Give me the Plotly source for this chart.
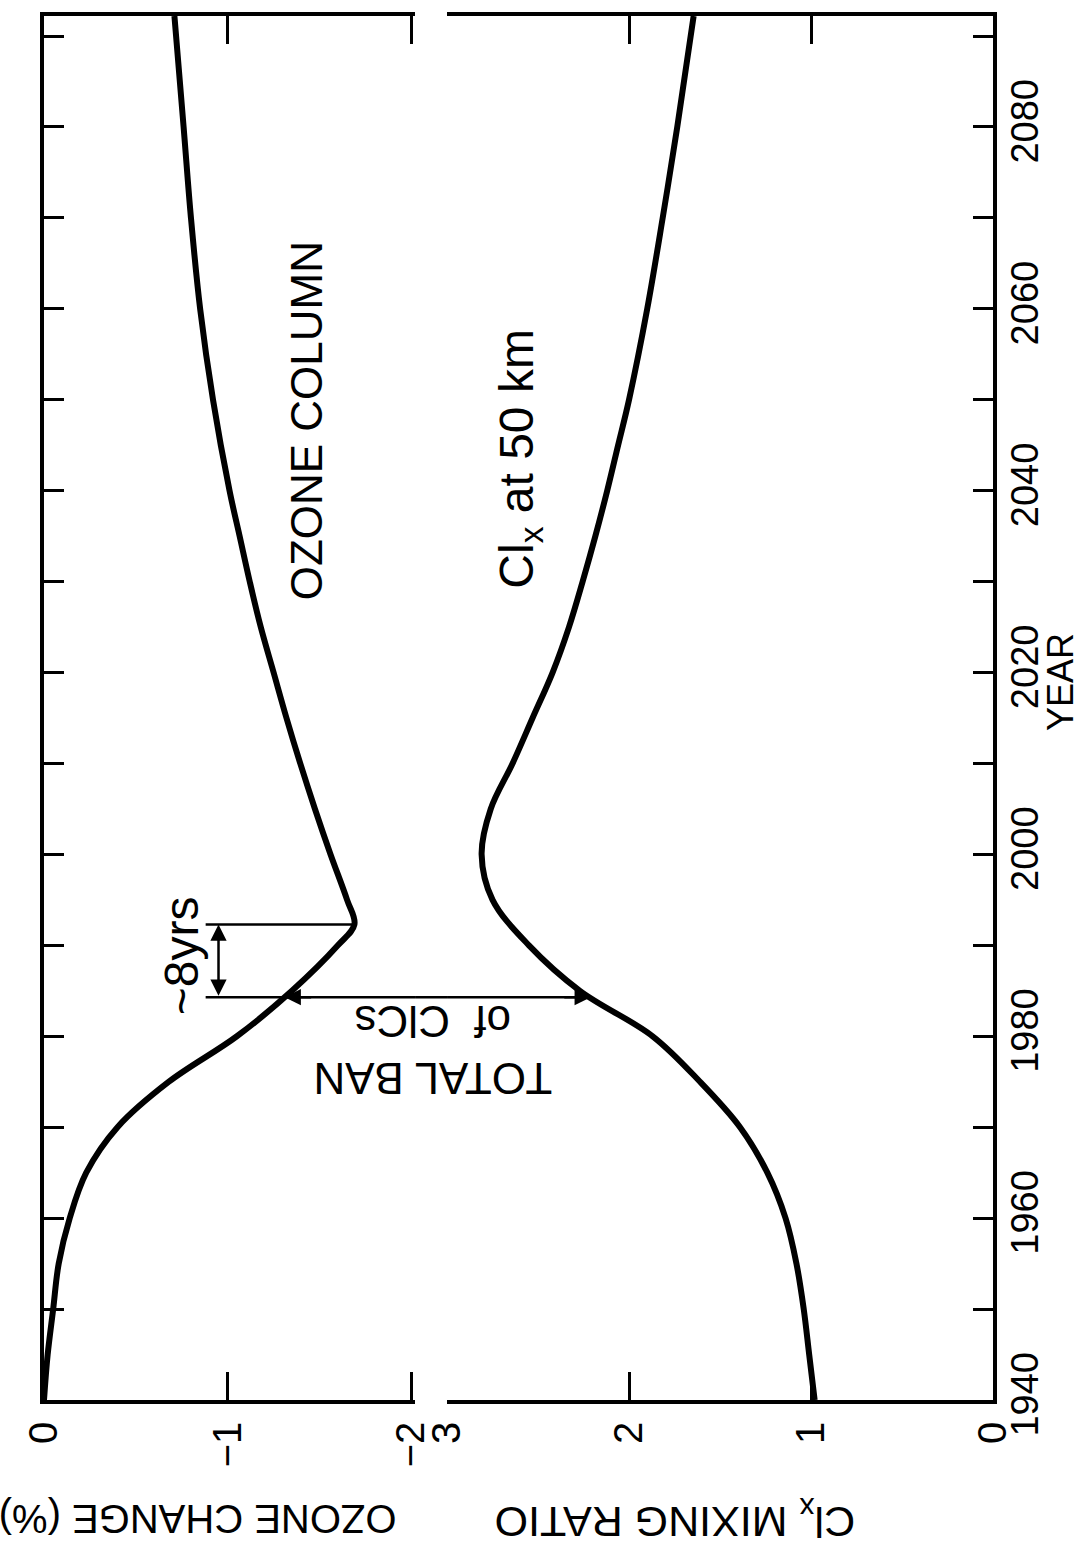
import plotly.graph_objects as go

# ---------------- data ----------------
YEARS_OZONE = [1940, 1945, 1950, 1955, 1960, 1965, 1970, 1975, 1980, 1985, 1990, 1992.3,
               1995, 2000, 2005, 2010, 2015, 2020, 2025, 2030, 2035, 2040, 2050, 2060,
               2070, 2080, 2092.2]
OZONE_CHANGE = [0.0, -0.02, -0.05, -0.08, -0.14, -0.23, -0.40, -0.68, -1.05, -1.35, -1.60, -1.69,
                -1.65, -1.56, -1.475, -1.395, -1.32, -1.25, -1.18, -1.12, -1.065, -1.01, -0.92, -0.85,
                -0.80, -0.76, -0.71]

YEARS_CLX = [1940, 1945, 1950, 1955, 1960, 1965, 1970, 1975, 1980, 1985, 1990, 1995,
             2000, 2005, 2010, 2015, 2020, 2025, 2030, 2035, 2040, 2045, 2050, 2060,
             2070, 2080, 2092.2]
CLX_RATIO = [0.98, 1.01, 1.04, 1.08, 1.14, 1.24, 1.39, 1.61, 1.87, 2.27, 2.55, 2.75,
             2.81, 2.76, 2.64, 2.53, 2.42, 2.33, 2.255, 2.185, 2.12, 2.06, 2.00, 1.90,
             1.815, 1.735, 1.645]

YEAR_TICKS = list(range(1940, 2091, 10))
YEAR_LABELS = [str(y) if y % 20 == 0 and y <= 2080 else "" for y in YEAR_TICKS]
OZONE_TICKS = [0, -1, -2]
OZONE_LABELS = ["0", "\u22121", "\u22122"]
CLX_TICKS = [3, 2, 1, 0]
CLX_LABELS = ["3", "2", "1", "0"]

# annotation values
BAN_YEAR = 1984.3
MIN_YEAR = 1992.3
OZONE_AT_BAN = -1.31
OZONE_MIN = -1.69
CLX_AT_BAN = 2.21
BRACKET_LEFT = -0.88
BRACKET_X = -0.95

# ---------------- layout constants ----------------
YEAR_RANGE = [1940, 2092.2]
OZ_RANGE = [0, -2.02]
CLX_RANGE = [3, 0]
DOM1 = [0.0, 0.391]
DOM2 = [0.4247, 1.0]

FONT = "Liberation Sans, Arial, sans-serif"
BLACK = "black"

fig = go.Figure()

# curves
fig.add_trace(go.Scatter(x=OZONE_CHANGE, y=YEARS_OZONE, xaxis="x", yaxis="y", mode="lines",
                         line=dict(color=BLACK, width=6, shape="spline", smoothing=1.0),
                         showlegend=False, hoverinfo="skip"))
fig.add_trace(go.Scatter(x=CLX_RATIO, y=YEARS_CLX, xaxis="x2", yaxis="y2", mode="lines",
                         line=dict(color=BLACK, width=6, shape="spline", smoothing=1.0),
                         showlegend=False, hoverinfo="skip"))

# annotation lines
fig.add_trace(go.Scatter(x=[BRACKET_LEFT, OZONE_MIN], y=[MIN_YEAR, MIN_YEAR], xaxis="x", yaxis="y",
                         mode="lines", line=dict(color=BLACK, width=2.5), showlegend=False, hoverinfo="skip"))
fig.add_trace(go.Scatter(x=[BRACKET_LEFT, OZ_RANGE[1]], y=[BAN_YEAR, BAN_YEAR], xaxis="x", yaxis="y",
                         mode="lines", line=dict(color=BLACK, width=2.5), showlegend=False, hoverinfo="skip"))
fig.add_trace(go.Scatter(x=[CLX_RANGE[0], CLX_AT_BAN], y=[BAN_YEAR, BAN_YEAR], xaxis="x2", yaxis="y2",
                         mode="lines", line=dict(color=BLACK, width=2.5), showlegend=False, hoverinfo="skip"))
fig.add_shape(type="line", xref="paper", yref="y", x0=DOM1[1], x1=DOM2[0], y0=BAN_YEAR, y1=BAN_YEAR,
              line=dict(color=BLACK, width=2.5))

# arrowheads
fig.add_annotation(xref="x", yref="y", x=OZONE_AT_BAN, y=BAN_YEAR, ax=28, ay=0, text="",
                   showarrow=True, arrowhead=2, arrowsize=1.3, arrowwidth=2.5, arrowcolor=BLACK, standoff=0)
fig.add_annotation(xref="x2", yref="y2", x=CLX_AT_BAN, y=BAN_YEAR, ax=-28, ay=0, text="",
                   showarrow=True, arrowhead=2, arrowsize=1.3, arrowwidth=2.5, arrowcolor=BLACK, standoff=0)
fig.add_annotation(xref="x", yref="y", x=BRACKET_X, y=MIN_YEAR, axref="x", ayref="y",
                   ax=BRACKET_X, ay=BAN_YEAR, text="", showarrow=True, arrowside="end+start",
                   arrowhead=2, arrowsize=1.3, arrowwidth=2.5, arrowcolor=BLACK, standoff=0, startstandoff=0)

# text labels
txt = dict(family=FONT, color=BLACK)
center = dict(xanchor="center", yanchor="middle", showarrow=False)
fig.add_annotation(xref="x", yref="y", x=-1.43, y=2047.7, text="OZONE COLUMN", textangle=-90,
                   font=dict(size=44, **txt), **center)
fig.add_annotation(xref="x2", yref="y2", x=2.6, y=2043.5, text="Cl<sub>x</sub> at 50 km", textangle=-90,
                   font=dict(size=48, **txt), **center)
fig.add_annotation(xref="paper", yref="y", x=0.41, y=1978.5, text="TOTAL BAN<br>of  ClCs", textangle=180,
                   font=dict(size=44, **txt), **center)
fig.add_annotation(xref="x", yref="y", x=-0.745, y=1988.9, text="~8yrs", textangle=-90,
                   font=dict(size=48, **txt), **center)
fig.add_annotation(xref="paper", yref="paper", x=1.071, y=0.519, text="YEAR", textangle=-90,
                   font=dict(size=36, **txt), **center)
fig.add_annotation(xref="paper", yref="paper", x=0.162, y=-0.0865, text="OZONE CHANGE (%)", textangle=180,
                   font=dict(size=40, **txt), **center)
fig.add_annotation(xref="paper", yref="paper", x=0.665, y=-0.0865, text="Cl<sub>x</sub> MIXING RATIO",
                   textangle=180, font=dict(size=43, **txt), **center)

xcommon = dict(showline=True, linewidth=3.5, linecolor=BLACK, mirror="ticks", ticks="inside",
               ticklen=28, tickwidth=3, tickcolor=BLACK, showgrid=False, zeroline=False,
               tickangle=-90, tickfont=dict(size=40, **txt), ticklabelstandoff=2)
ycommon = dict(range=YEAR_RANGE, showline=True, linewidth=3.5, linecolor=BLACK, ticks="inside",
               ticklen=20, tickwidth=3, tickcolor=BLACK, showgrid=False, zeroline=False,
               tickvals=YEAR_TICKS)

fig.update_layout(
    width=1083, height=1559,
    margin=dict(l=44, r=90, t=12, b=159),
    paper_bgcolor="white", plot_bgcolor="white",
    showlegend=False,
    xaxis=dict(domain=DOM1, range=OZ_RANGE, anchor="y", tickvals=OZONE_TICKS, ticktext=OZONE_LABELS, **xcommon),
    xaxis2=dict(domain=DOM2, range=CLX_RANGE, anchor="y2", tickvals=CLX_TICKS, ticktext=CLX_LABELS, **xcommon),
    yaxis=dict(anchor="x", side="left", showticklabels=False, **ycommon),
    yaxis2=dict(anchor="x2", side="right", matches="y", ticktext=YEAR_LABELS, tickangle=-90,
                tickfont=dict(size=38, **txt), ticklabelstandoff=-4, **ycommon),
)

fig.write_html("out.html", config={"displayModeBar": False},
               post_script="document.body.style.margin='0px';")
